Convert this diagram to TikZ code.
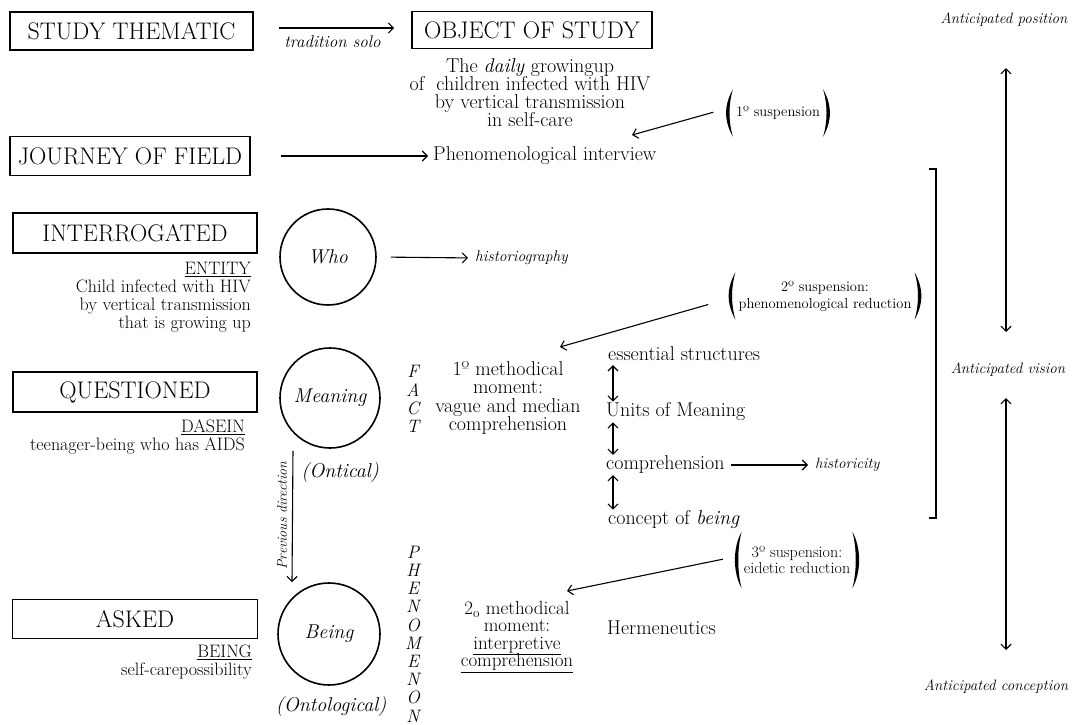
\documentclass[tikz,border=0pt]{standalone}
\usepackage{fontspec}
\usetikzlibrary{arrows.meta,calc}
\newcommand\fsBody{\fontsize{20}{18}\selectfont\lineskiplimit=-20pt\relax}
\newcommand\fsSide{\fontsize{18}{18}\selectfont\lineskiplimit=-20pt\relax}
\newcommand\fsMone{\fontsize{20}{18.3}\selectfont\lineskiplimit=-20pt\relax}
\newcommand\fsMtwo{\fontsize{19}{17.5}\selectfont\lineskiplimit=-20pt\relax}
\newcommand\fsBox{\fontsize{24}{26}\selectfont}
\newcommand\fsSus{\fontsize{14.5}{17}\selectfont}
\newcommand\fsSusB{\fontsize{16}{15.5}\selectfont\lineskiplimit=-20pt\relax}
\newcommand\fsCirc{\fontsize{20}{21}\selectfont\itshape}
\newcommand\fsLet{\fontsize{18}{18.2}\selectfont\itshape}
\newcommand\fsLab{\fontsize{15.5}{16}\selectfont\itshape}
\newcommand\fsAnt{\fontsize{15}{16}\selectfont\itshape}
\newcommand\parensaround[1]{%
  \fill ($(#1.north west)+(8,0)$) .. controls ($(#1.north west)+(-1,16)$) and ($(#1.south west)+(-1,-16)$) .. ($(#1.south west)+(8,0)$)
     .. controls ($(#1.south west)+(3.5,-16)$) and ($(#1.north west)+(3.5,16)$) .. cycle;
  \fill ($(#1.north east)+(-8,0)$) .. controls ($(#1.north east)+(1,16)$) and ($(#1.south east)+(1,-16)$) .. ($(#1.south east)+(-8,0)$)
     .. controls ($(#1.south east)+(-3.5,-16)$) and ($(#1.north east)+(-3.5,16)$) .. cycle;
}
\begin{document}
\begin{tikzpicture}[x=1pt,y=-1pt,
  bigbox/.style={draw, line width=1.8pt, inner sep=0pt, font=\fsBox},
  txt/.style={inner sep=0pt, font=\fsBody, align=center},
  side/.style={inner sep=0pt, font=\fsSide, align=right, anchor=east},
  circ/.style={draw, circle, line width=1.6pt, inner sep=0pt, font=\fsCirc},
  sus/.style={inner xsep=11pt, inner ysep=0pt, minimum height=47pt, font=\fsSus, align=center},
  arr/.style={-{Straight Barb[length=5pt,width=10pt]}, line width=1.1pt},
  darr/.style={{Straight Barb[length=5pt,width=10pt]}-{Straight Barb[length=5pt,width=10pt]}, line width=1.1pt},
  lett/.style={inner sep=0pt, font=\fsLet, align=center},
  ant/.style={inner sep=0pt, font=\fsAnt}]
\useasboundingbox (0,0) rectangle (1072,725);

% boxes
\node[bigbox, minimum width=243pt, minimum height=38pt] (study) at (131.5,31) {STUDY THEMATIC};
\node[bigbox, minimum width=240pt, minimum height=37pt] (object) at (532,30) {OBJECT OF STUDY};
\node[bigbox, minimum width=240pt, minimum height=39pt] (journey) at (130,156) {JOURNEY OF FIELD};
\node[bigbox, minimum width=244pt, minimum height=40pt] (interrog) at (135,233) {INTERROGATED};
\node[bigbox, minimum width=244pt, minimum height=40pt] (quest) at (135,392) {QUESTIONED};
\node[bigbox, minimum width=245pt, minimum height=39pt] (asked) at (135,619) {ASKED};

% top rows
\draw[arr, shorten <=25pt, shorten >=17pt] ([yshift=3pt]study.east) -- ([yshift=2pt]object.west)
  node[midway, below=4pt, font=\fontsize{17}{18}\selectfont\itshape] {tradition solo};
\node[txt] (objdesc) at (530,93) {The \textit{daily} growingup\\of\ \ children infected with HIV\\by vertical transmission\\in self-care};
\node[txt, anchor=west] (interview) at (433,156) {Phenomenological interview};
\draw[arr, shorten <=30pt, shorten >=5pt] (journey.east) -- (interview.west);
\node[sus] (s1) at (778,113) {1º suspension};
\parensaround{s1}
\coordinate (e1) at (632,135);
\draw[arr, shorten <=12pt] ([yshift=4pt]s1.west) -- (e1);

% interrogated
\node[side] (entity) at (251,297) {\underline{ENTITY}\\Child infected with HIV\\by vertical transmission\\that is growing up};
\node[circ, minimum size=96pt] (who) at (328,257) {Who};
\node[inner sep=0pt, font=\fsLab, anchor=west] (histo) at (475,258) {historiography};
\draw[arr, shorten <=14pt, shorten >=7pt] (who.east) -- (histo.west);
\node[sus] (s2) at (825,296) {2º suspension:\\phenomenological reduction};
\parensaround{s2}
\coordinate (e2) at (560,347);
\draw[arr, shorten <=20pt] ([yshift=-3pt]s2.west) -- (e2);

% bracket
\draw[line width=1.2pt] (929,169) -- (936,169) -- (936,518) -- (929,518);

% questioned
\node[side] (dasein) at (245,437) {\underline{DASEIN}\\teenager-being who has AIDS};
\node[circ, minimum size=100pt] (meaning) at (330,398) {Meaning};
\node[inner sep=0pt, font=\fsCirc] (ontical) at (340,473) {(Ontical)};
\node[lett] (fact) at (413,399) {F\\A\\C\\T};
\node[txt, font=\fsMone] (m1) at (508,398) {1º methodical\\moment:\\vague and median\\comprehension};

\path (613,0) coordinate (colx);
\node[txt, anchor=west] (es) at (608,354) {essential structures};
\node[txt, anchor=west] (um) at (606,412) {Units of Meaning};
\node[txt, anchor=west] (comp) at (606,465) {comprehension};
\node[txt, anchor=west] (cob) at (608,520) {concept of \textit{being}};
\draw[darr, shorten <=4pt, shorten >=1pt] (es.south -| colx) -- (um.north -| colx);
\draw[darr, shorten <=1pt, shorten >=1pt] (um.south -| colx) -- (comp.north -| colx);
\draw[darr, shorten <=1pt, shorten >=1pt] (comp.south -| colx) -- (cob.north -| colx);
\node[inner sep=0pt, font=\fsAnt, anchor=west] (hist) at (815,465) {historicity};
\draw[arr, shorten <=6pt, shorten >=7pt] (comp.east) -- (hist.west);

\node[sus, font=\fsSusB, minimum height=56pt, inner xsep=10pt] (s3) at (797,560) {3º suspension:\\eidetic reduction};
\parensaround{s3}
\coordinate (e3) at (567,591);
\draw[arr, shorten <=11pt] ([yshift=3pt]s3.west) -- (e3);

% asked
\node[side] (beingtxt) at (252,662) {\underline{BEING}\\self-carepossibility};
\node[circ, minimum size=102pt] (being) at (329,634) {Being};
\node[inner sep=0pt, font=\fsCirc] (ontol) at (331,707) {(Ontological)};
\draw[arr, shorten <=2pt] ([xshift=-37pt]meaning.south) -- ([xshift=-37pt]being.north)
  node[midway, anchor=south, rotate=90, inner sep=5pt, font=\fontsize{14}{15}\selectfont\itshape] {Previous direction};
\node[lett] (phen) at (413,634) {P\\H\\E\\N\\O\\M\\E\\N\\O\\N};
\node[txt, font=\fsMtwo] (m2) at (517,637) {2\textsubscript{o} methodical\\moment:\\\underline{interpretive}\\\underline{comprehension}};
\node[txt, anchor=west] (herm) at (607,628) {Hermeneutics};

% right side
\path (1006,0) coordinate (antx);
\node[ant] (pos) at (1004,20) {Anticipated position};
\node[ant] (vis) at (1008,370) {Anticipated vision};
\node[ant] (conc) at (996,687) {Anticipated conception};
\draw[darr, shorten <=41pt, shorten >=31pt] (pos.south -| antx) -- (vis.north -| antx);
\draw[darr, shorten <=21pt, shorten >=30pt] (vis.south -| antx) -- (conc.north -| antx);
\end{tikzpicture}
\end{document}
